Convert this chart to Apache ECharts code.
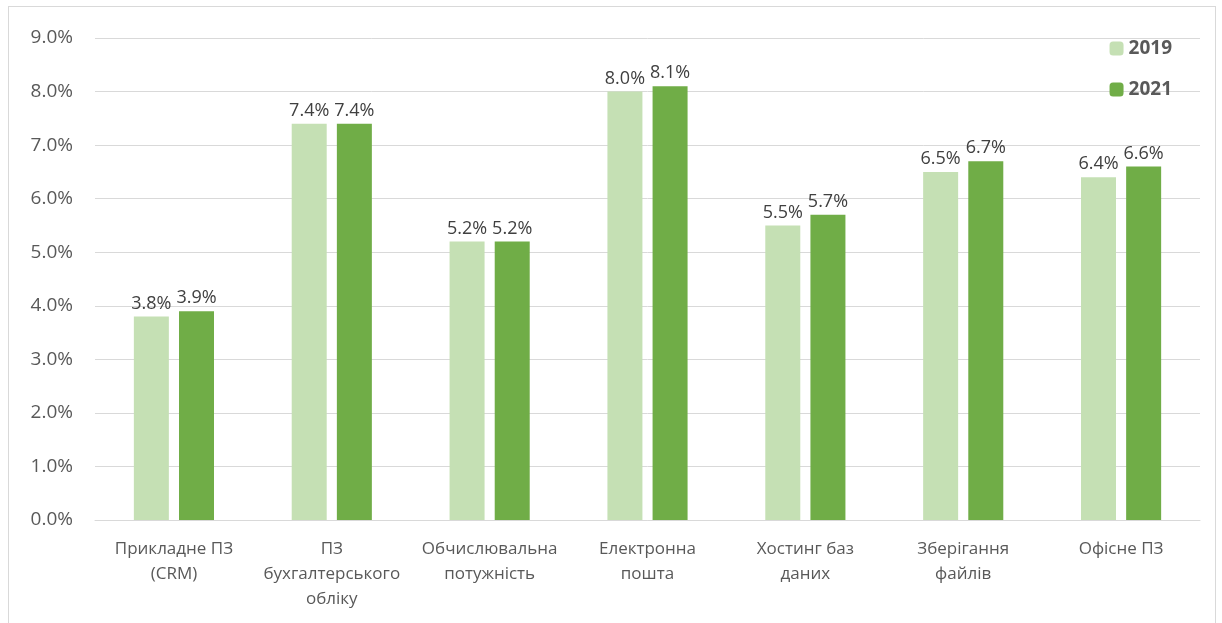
<!DOCTYPE html>
<html>
<head>
<meta charset="utf-8">
<script src="https://cdn.jsdelivr.net/npm/echarts@6/dist/echarts.min.js"></script>
<style>
    html, body { margin: 0; padding: 0; background: #fff; }
    #frame {
        position: absolute; left: 8px; top: 6px; width: 1206px; height: 640px;
        border: 1px solid #d9d9d9;
    }
    #chart { position: absolute; left: 0; top: 0; width: 1222px; height: 623px; }
</style>
</head>
<body>
<div id="frame"></div>
<div id="chart"></div>
<script>
// categories and values (percent)
const categories = [
    "Прикладне ПЗ\n(CRM)",
    "ПЗ\nбухгалтерського\nобліку",
    "Обчислювальна\nпотужність",
    "Електронна\nпошта",
    "Хостинг баз\nданих",
    "Зберігання\nфайлів",
    "Офісне ПЗ"
];
const values2019 = [3.8, 7.4, 5.2, 8.0, 5.5, 6.5, 6.4];
const values2021 = [3.9, 7.4, 5.2, 8.1, 5.7, 6.7, 6.6];

const font = "'Open Sans', 'Noto Sans', sans-serif";

let myChart = echarts.init(document.getElementById("chart"));

let labelStyle = {
    show: true,
    position: "top",
    distance: 4,
    color: "#404040",
    fontSize: 18,
    fontFamily: font,
    formatter: p => p.value.toFixed(1) + "%"
};

let option = {
    backgroundColor: "transparent",
    animation: false,
    grid: {
        left: 95,
        right: 22,
        top: 38,
        bottom: 103
    },
    legend: {
        orient: "vertical",
        right: 45,
        top: 34,
        itemWidth: 14,
        itemHeight: 14,
        itemGap: 22,
        textStyle: {
            color: "#595959",
            fontSize: 19,
            fontWeight: "bold",
            fontFamily: font
        },
        data: ["2019", "2021"]
    },
    xAxis: {
        type: "category",
        data: categories,
        axisTick: { show: false },
        axisLine: { lineStyle: { color: "#d9d9d9", width: 1 } },
        axisLabel: {
            color: "#595959",
            fontSize: 17,
            fontFamily: font,
            lineHeight: 25,
            margin: 17,
            interval: 0
        }
    },
    yAxis: {
        type: "value",
        min: 0,
        max: 9,
        interval: 1,
        axisLine: { show: false },
        axisTick: { show: false },
        splitLine: { lineStyle: { color: "#d9d9d9", width: 1 } },
        axisLabel: {
            color: "#595959",
            fontSize: 19,
            fontFamily: font,
            margin: 22,
            formatter: v => v.toFixed(1) + "%"
        }
    },
    series: [
        {
            name: "2019",
            type: "bar",
            data: values2019,
            barWidth: 35,
            barGap: "29%",
            itemStyle: { color: "#C5E0B4" },
            label: labelStyle
        },
        {
            name: "2021",
            type: "bar",
            data: values2021,
            barWidth: 35,
            itemStyle: { color: "#70AD47" },
            label: labelStyle
        }
    ]
};

myChart.setOption(option);
</script>
</body>
</html>
